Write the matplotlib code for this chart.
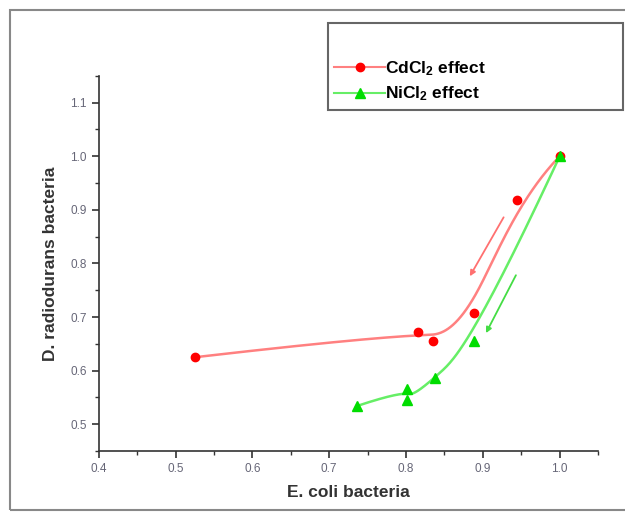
import numpy as np
import matplotlib
matplotlib.use("Agg")
import matplotlib.pyplot as plt
from matplotlib.patches import Rectangle
from matplotlib.ticker import MultipleLocator

plt.rcParams['font.family'] = ['Liberation Sans', 'DejaVu Sans']
plt.rcParams['mathtext.default'] = 'regular'

# data (E. coli vs D. radiodurans)
cd_x = [0.525, 0.815, 0.835, 0.889, 0.945, 1.0]
cd_y = [0.625, 0.673, 0.655, 0.707, 0.918, 1.0]
ni_x = [0.736, 0.801, 0.801, 0.838, 0.888, 1.0]
ni_y = [0.534, 0.565, 0.545, 0.586, 0.655, 1.0]

# trend arrows (start, end)
cd_arrow = [(0.927, 0.886), (0.883, 0.776)]
ni_arrow = [(0.943, 0.778), (0.904, 0.670)]


def bspline(x, y, k=3, n=200):
    # clamped B-spline using the points as control points
    pts = np.column_stack([x, y])
    m = len(pts)
    k = min(k, m - 1)
    knots = np.concatenate([np.zeros(k), np.linspace(0, 1, m - k + 1), np.ones(k)])
    t = np.linspace(0, 1, n)
    t[-1] = 1 - 1e-9
    out = []
    for tt in t:
        N = np.array([1.0 if knots[i] <= tt < knots[i + 1] else 0.0
                      for i in range(len(knots) - 1)])
        for d in range(1, k + 1):
            Nn = np.zeros(len(knots) - 1 - d)
            for i in range(len(Nn)):
                a = 0.0
                if knots[i + d] != knots[i]:
                    a = (tt - knots[i]) / (knots[i + d] - knots[i]) * N[i]
                b = 0.0
                if knots[i + d + 1] != knots[i + 1]:
                    b = (knots[i + d + 1] - tt) / (knots[i + d + 1] - knots[i + 1]) * N[i + 1]
                Nn[i] = a + b
            N = Nn
        out.append(N @ pts)
    out = np.array(out)
    return out[:, 0], out[:, 1]


fig = plt.figure(figsize=(6.25, 5.12), dpi=100)
ax = fig.add_axes([0.158, 0.119, 0.799, 0.733])

# outer frame
fig.patches.append(Rectangle((0.016, 0.004), 1.2, 0.976, transform=fig.transFigure,
                             fill=False, edgecolor='#888888', lw=1.5))

sx, sy = bspline(cd_x, cd_y)
ax.plot(sx, sy, color='#ff8080', lw=1.8, zorder=2)
ax.plot(cd_x, cd_y, 'o', color='#ff0000', ms=6, zorder=3)
sx, sy = bspline(ni_x, ni_y)
ax.plot(sx, sy, color='#66ee66', lw=1.8, zorder=2)
ax.plot(ni_x, ni_y, '^', color='#00dd00', ms=7, zorder=3)

ax.annotate('', xy=cd_arrow[1], xytext=cd_arrow[0],
            arrowprops=dict(arrowstyle='-|>', color='#ff7070', lw=1.3,
                            mutation_scale=8, shrinkA=0, shrinkB=0))
ax.annotate('', xy=ni_arrow[1], xytext=ni_arrow[0],
            arrowprops=dict(arrowstyle='-|>', color='#44dd44', lw=1.3,
                            mutation_scale=8, shrinkA=0, shrinkB=0))

ax.set_xlim(0.4, 1.05)
ax.set_ylim(0.45, 1.15)
ax.xaxis.set_minor_locator(MultipleLocator(0.05))
ax.yaxis.set_minor_locator(MultipleLocator(0.05))
ax.set_xticks([0.4, 0.5, 0.6, 0.7, 0.8, 0.9, 1.0])
ax.set_xticklabels(['0.4', '0.5', '0.6', '0.7', '0.8', '0.9', '1.0'])
ax.set_yticks([0.5, 0.6, 0.7, 0.8, 0.9, 1.0, 1.1])
ax.set_yticklabels(['0.5', '0.6', '0.7', '0.8', '0.9', '1.0', '1.1'])
ax.spines['top'].set_visible(False)
ax.spines['right'].set_visible(False)
for s in ('left', 'bottom'):
    ax.spines[s].set_color('#333333')
    ax.spines[s].set_linewidth(1.2)
ax.tick_params(which='major', length=5, width=1.2, color='#333333',
               labelsize=8.5, labelcolor='#666677')
ax.tick_params(which='minor', length=3, width=1.0, color='#333333')

ax.set_xlabel('E. coli bacteria', fontsize=12.5, fontweight='bold',
              color='#333333', labelpad=7)
ax.set_ylabel('D. radiodurans bacteria', fontsize=12.5, fontweight='bold',
              color='#333333', labelpad=9)

# legend box
fig.patches.append(Rectangle((0.525, 0.785), 0.472, 0.17, transform=fig.transFigure,
                             fill=False, edgecolor='#666666', lw=1.5))
h1, = ax.plot([], [], '-o', color='#ff8080', mfc='#ff0000', mec='#ff0000', ms=6)
h2, = ax.plot([], [], '-^', color='#66ee66', mfc='#00dd00', mec='#00dd00', ms=7)
fig.legend([h1, h2], ['CdCl$_2$ effect', 'NiCl$_2$ effect'],
           loc='upper left', bbox_to_anchor=(0.51, 0.915), frameon=False,
           prop={'size': 12.5, 'weight': 'bold'}, handlelength=2.9,
           handletextpad=0.0, labelspacing=0.4)

fig.savefig('out.png', dpi=100)
